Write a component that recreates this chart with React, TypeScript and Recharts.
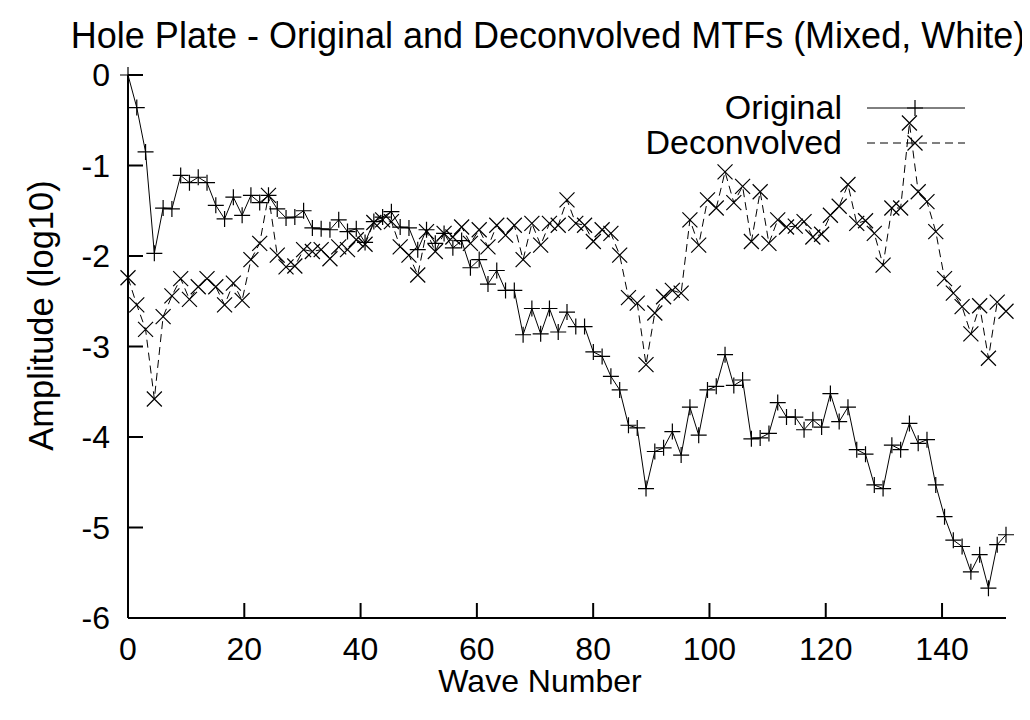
import React from 'react';
import { LineChart, Line, XAxis, YAxis, Legend } from 'recharts';

const WAVE = [
  0, 1.51, 3.02, 4.53, 6.04, 7.55, 9.06, 10.57, 12.08, 13.59,
  15.1, 16.61, 18.12, 19.63, 21.14, 22.65, 24.16, 25.67, 27.18, 28.69,
  30.2, 31.71, 33.22, 34.73, 36.24, 37.75, 39.26, 40.77, 42.28, 43.79,
  45.3, 46.81, 48.32, 49.83, 51.34, 52.85, 54.36, 55.87, 57.38, 58.89,
  60.4, 61.91, 63.42, 64.93, 66.44, 67.95, 69.46, 70.97, 72.48, 73.99,
  75.5, 77.01, 78.52, 80.03, 81.54, 83.05, 84.56, 86.07, 87.58, 89.09,
  90.6, 92.11, 93.62, 95.13, 96.64, 98.15, 99.66, 101.17, 102.68, 104.19,
  105.7, 107.21, 108.72, 110.23, 111.74, 113.25, 114.76, 116.27, 117.78, 119.29,
  120.8, 122.31, 123.82, 125.33, 126.84, 128.35, 129.86, 131.37, 132.88, 134.39,
  135.9, 137.41, 138.92, 140.43, 141.94, 143.45, 144.96, 146.47, 147.98, 149.49,
  151,
];

const ORIGINAL = [
  0, -0.36, -0.85, -1.97, -1.47, -1.48, -1.11, -1.19, -1.13, -1.19,
  -1.44, -1.59, -1.35, -1.55, -1.33, -1.41, -1.33, -1.48, -1.58, -1.57,
  -1.5, -1.69, -1.7, -1.71, -1.6, -1.73, -1.7, -1.85, -1.62, -1.57,
  -1.51, -1.68, -1.69, -1.93, -1.71, -1.86, -1.75, -1.91, -1.83, -2.13,
  -2.04, -2.31, -2.16, -2.38, -2.38, -2.87, -2.58, -2.86, -2.58, -2.84,
  -2.62, -2.78, -2.78, -3.06, -3.11, -3.33, -3.48, -3.87, -3.9, -4.57,
  -4.16, -4.12, -3.94, -4.2, -3.67, -3.98, -3.48, -3.44, -3.09, -3.43,
  -3.37, -4.02, -4.01, -3.96, -3.62, -3.78, -3.78, -3.92, -3.81, -3.89,
  -3.52, -3.83, -3.67, -4.14, -4.19, -4.53, -4.57, -4.09, -4.14, -3.85,
  -4.07, -4.03, -4.53, -4.88, -5.14, -5.21, -5.49, -5.3, -5.67, -5.19,
  -5.08,
];

const DECONVOLVED = [
  -2.24, -2.54, -2.81, -3.58, -2.67, -2.44, -2.25, -2.48, -2.34, -2.25,
  -2.34, -2.54, -2.3, -2.49, -2.04, -1.86, -1.33, -1.99, -2.12, -2.11,
  -1.93, -1.95, -1.93, -2.03, -1.9, -1.93, -1.82, -1.87, -1.63, -1.6,
  -1.62, -1.9, -1.99, -2.21, -1.73, -1.95, -1.75, -1.79, -1.68, -1.86,
  -1.71, -1.9, -1.66, -1.77, -1.66, -2.04, -1.64, -1.88, -1.64, -1.66,
  -1.38, -1.64, -1.66, -1.84, -1.71, -1.75, -1.99, -2.46, -2.52, -3.2,
  -2.63, -2.45, -2.38, -2.41, -1.6, -1.88, -1.38, -1.47, -1.07, -1.41,
  -1.23, -1.84, -1.29, -1.86, -1.6, -1.68, -1.67, -1.62, -1.79, -1.76,
  -1.55, -1.45, -1.21, -1.64, -1.61, -1.75, -2.1, -1.47, -1.47, -0.53,
  -1.29, -1.4, -1.73, -2.25, -2.41, -2.56, -2.86, -2.55, -3.13, -2.51,
  -2.61,
];

const X_TICKS = [0, 20, 40, 60, 80, 100, 120, 140];
const Y_TICKS = [0, -1, -2, -3, -4, -5, -6];
const X_DOMAIN = [0, 151];
const Y_DOMAIN = [-6, 0];
const TITLE = 'Hole Plate - Original and Deconvolved MTFs (Mixed, White)';
const X_LABEL = 'Wave Number';
const Y_LABEL = 'Amplitude (log10)';
const SERIES_NAMES = ['Original', 'Deconvolved'];

const data = WAVE.map((w, i) => ({
  wave: w,
  original: ORIGINAL[i],
  deconvolved: DECONVOLVED[i],
}));

const FONT = '"Liberation Sans", Arial, Helvetica, sans-serif';
const FS = 32;
const TICK_LEN = 15;
const DASH = '8 5';

const plusPath = (cx: number, cy: number, r: number) =>
  `M${cx - r},${cy}H${cx + r}M${cx},${cy - r}V${cy + r}`;
const crossPath = (cx: number, cy: number, r: number) =>
  `M${cx - r},${cy - r}L${cx + r},${cy + r}M${cx - r},${cy + r}L${cx + r},${cy - r}`;

const PlusDot = (props: any) => {
  const { cx, cy, index } = props;
  if (cx == null || cy == null) return <g key={`p-${index}`} />;
  return <path key={`p-${index}`} d={plusPath(cx, cy, 8)} stroke="#000" strokeWidth={1.2} fill="none" />;
};

const CrossDot = (props: any) => {
  const { cx, cy, index } = props;
  if (cx == null || cy == null) return <g key={`c-${index}`} />;
  return <path key={`c-${index}`} d={crossPath(cx, cy, 7.5)} stroke="#000" strokeWidth={1.2} fill="none" />;
};

const BottomTick = (props: any) => {
  const { x, y, payload } = props;
  return (
    <g>
      <line x1={x} y1={y} x2={x} y2={y - TICK_LEN} stroke="#000" strokeWidth={2} />
      <text x={x} y={y + 42} textAnchor="middle" fontSize={FS} fontFamily={FONT} fill="#000">
        {payload.value}
      </text>
    </g>
  );
};

const TopTick = (props: any) => {
  const { x, y } = props;
  return <line x1={x} y1={y} x2={x} y2={y + TICK_LEN} stroke="#000" strokeWidth={2} />;
};

const LeftTick = (props: any) => {
  const { x, y, payload } = props;
  return (
    <g>
      <line x1={x} y1={y} x2={x + TICK_LEN} y2={y} stroke="#000" strokeWidth={2} />
      <text x={x - 18} y={y + 11} textAnchor="end" fontSize={FS} fontFamily={FONT} fill="#000">
        {payload.value}
      </text>
    </g>
  );
};

const RightTick = (props: any) => {
  const { x, y } = props;
  return <line x1={x} y1={y} x2={x - TICK_LEN} y2={y} stroke="#000" strokeWidth={2} />;
};

const XLabel = (props: any) => {
  const vb = props.viewBox || { x: 0, y: 0, width: 0, height: 0 };
  return (
    <text x={vb.x + vb.width / 2 - 27} y={vb.y + 74} textAnchor="middle" fontSize={FS} fontFamily={FONT} fill="#000">
      {X_LABEL}
    </text>
  );
};

const YLabel = (props: any) => {
  const vb = props.viewBox || { x: 0, y: 0, width: 0, height: 0 };
  const cx = vb.x - 15;
  const cy = vb.y + vb.height / 2 - 31;
  return (
    <text
      x={cx}
      y={cy}
      transform={`rotate(-90, ${cx}, ${cy})`}
      textAnchor="middle"
      fontSize={34.5}
      fontFamily={FONT}
      fill="#000"
    >
      {Y_LABEL}
    </text>
  );
};

const LegendBox = () => (
  <svg width={380} height={80} style={{ display: 'block', overflow: 'visible' }}>
    <text x={242} y={34} textAnchor="end" fontSize={34} fontFamily={FONT} fill="#000">
      {SERIES_NAMES[0]}
    </text>
    <line x1={267} y1={23} x2={365} y2={23} stroke="#000" strokeWidth={1} />
    <path d={plusPath(315, 23, 8)} stroke="#000" strokeWidth={1.2} fill="none" />
    <text x={242} y={69} textAnchor="end" fontSize={34} fontFamily={FONT} fill="#000">
      {SERIES_NAMES[1]}
    </text>
    <line x1={267} y1={58} x2={365} y2={58} stroke="#000" strokeWidth={1} strokeDasharray={DASH} />
    <path d={crossPath(315, 58, 7.5)} stroke="#000" strokeWidth={1.2} fill="none" />
  </svg>
);

export default function App() {
  return (
    <div style={{ position: 'relative', width: 1014, height: 704 }}>
      <LineChart
        width={1014}
        height={704}
        data={data}
        margin={{ top: 67, right: 16, bottom: 54, left: 60 }}
      >
        <XAxis
          dataKey="wave"
          type="number"
          domain={X_DOMAIN}
          ticks={X_TICKS}
          height={40}
          tickSize={0}
          tickMargin={0}
          tick={BottomTick}
          tickLine={false}
          axisLine={{ stroke: '#000', strokeWidth: 2 }}
          interval={0}
          label={<XLabel />}
        />
        <XAxis
          xAxisId="top"
          orientation="top"
          dataKey="wave"
          type="number"
          domain={X_DOMAIN}
          ticks={X_TICKS}
          height={0}
          tickSize={0}
          tickMargin={0}
          tick={TopTick}
          tickLine={false}
          axisLine={{ stroke: '#000', strokeWidth: 2 }}
          interval={0}
        />
        <YAxis
          type="number"
          domain={Y_DOMAIN}
          ticks={Y_TICKS}
          width={60}
          tickSize={0}
          tickMargin={0}
          tick={LeftTick}
          tickLine={false}
          axisLine={{ stroke: '#000', strokeWidth: 2 }}
          interval={0}
          label={<YLabel />}
        />
        <YAxis
          yAxisId="right"
          orientation="right"
          type="number"
          domain={Y_DOMAIN}
          ticks={Y_TICKS}
          width={0}
          tickSize={0}
          tickMargin={0}
          tick={RightTick}
          tickLine={false}
          axisLine={{ stroke: '#000', strokeWidth: 2 }}
          interval={0}
        />
        <Legend
          layout="vertical"
          align="center"
          verticalAlign="middle"
          content={<LegendBox />}
          wrapperStyle={{ position: 'absolute', left: 592, top: 77, width: 380, height: 80 }}
        />
        <Line
          type="linear"
          dataKey="original"
          name={SERIES_NAMES[0]}
          stroke="#000"
          strokeWidth={1}
          dot={PlusDot}
          activeDot={false}
          isAnimationActive={false}
        />
        <Line
          type="linear"
          dataKey="deconvolved"
          name={SERIES_NAMES[1]}
          stroke="#000"
          strokeWidth={1}
          strokeDasharray={DASH}
          dot={CrossDot}
          activeDot={false}
          isAnimationActive={false}
        />
      </LineChart>
      <svg
        width={1014}
        height={60}
        style={{ position: 'absolute', left: 0, top: 0, pointerEvents: 'none', overflow: 'visible' }}
      >
        <text x={540} y={40} textAnchor="middle" fontSize={36} fontFamily={FONT} fill="#000">
          {TITLE}
        </text>
      </svg>
    </div>
  );
}
